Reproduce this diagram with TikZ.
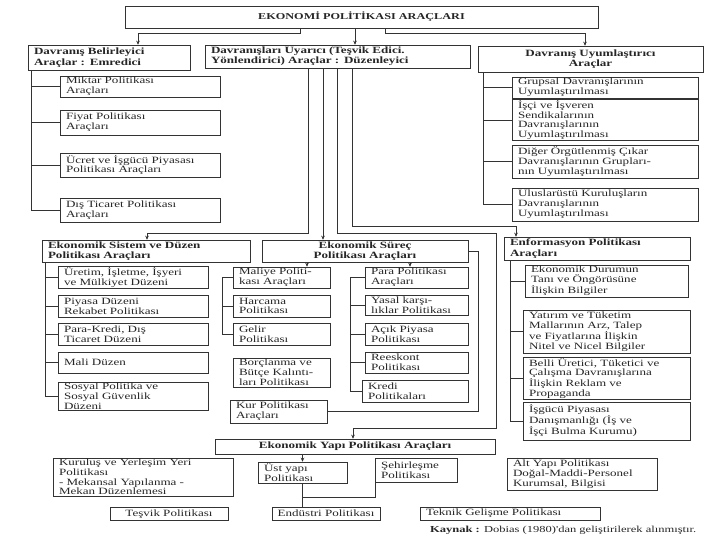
\documentclass[tikz,border=0pt]{standalone}
\usepackage{fontspec}
\newfontfamily\scanfont{Liberation Serif}[FakeStretch=1.36]
\usetikzlibrary{arrows.meta}
\colorlet{inkc}{black!80}
\newcommand{\itemfont}{\scanfont\fontsize{9.6}{9.8}\selectfont}
\newcommand{\headfont}{\scanfont\bfseries\fontsize{9.6}{10.4}\selectfont}

\begin{document}
\begin{tikzpicture}[x=1pt, y=-1pt,
  tool/.style={rectangle, draw=inkc, line width=0.5pt, fill=white,
               text=black!85, align=left, inner xsep=6pt, inner ysep=1pt,
               font=\itemfont},
  head/.style={tool, font=\headfont},
  link/.style={draw=inkc, line width=0.5pt},
  arr/.style={link, -{Stealth[length=4pt, width=3.5pt]}},
  note/.style={inner sep=0pt, text=black!85,
               font=\scanfont\fontsize{9.2}{9.4}\selectfont}
]
\fill[white] (0,0) rectangle (720,540);
\useasboundingbox (0,0) rectangle (720,540);

% main title
\node[head, align=center, text width=461pt, minimum height=22pt,
      font=\scanfont\bfseries\fontsize{9}{10}\selectfont] (top) at (361.5,17)
      {EKONOMİ POLİTİKASI ARAÇLARI};

% first level
\node[head, text width=150pt, minimum height=25pt] (A) at (109,57.5)
      {Davranış Belirleyici\\Araçlar : Emredici};
\node[head, text width=253pt, minimum height=23pt] (B) at (337.5,56.5)
      {Davranışları Uyarıcı (Teşvik Edici.\\Yönlendirici) Araçlar : Düzenleyici};
\node[head, align=center, text width=213pt, minimum height=26pt] (C) at (590.5,59)
      {Davranış Uyumlaştırıcı\\Araçlar};

\coordinate (tl) at (138,33);
\coordinate (tr) at (585,33);
\draw[arr] ([xshift=-61.5]top.south) |- (tl) -- (tl |- A.north);
\draw[arr] ([xshift=-6.5]top.south) -- ([xshift=17.5]B.north);
\draw[arr] ([xshift=23.5]top.south) |- (tr) -- (tr |- C.north);

% emredici
\node[tool, text width=148pt, minimum height=19pt] (A1) at (140,86.5)
      {Miktar Politikası\\Araçları};
\node[tool, text width=148pt, minimum height=25pt] (A2) at (140,122.5)
      {Fiyat Politikası\\Araçları};
\node[tool, text width=148pt, minimum height=24pt] (A3) at (140,165)
      {Ücret ve İşgücü Piyasası\\Politikası Araçları};
\node[tool, text width=148pt, minimum height=24pt] (A4) at (140,210)
      {Dış Ticaret Politikası\\Araçları};
\coordinate (aL) at ([xshift=3]A.south west);
\draw[link] (aL) |- (A4.west);
\foreach \n in {A1,A2,A3}
  \draw[link] (\n.west) -- (\n.west -| aL);

% uyumlastirici
\node[tool, text width=174pt, minimum height=19pt] (C1) at (605,87.5)
      {Grupsal Davranışlarının\\Uyumlaştırılması};
\node[tool, text width=174pt, minimum height=36pt] (C2) at (605,120)
      {İşçi ve İşveren\\Sendikalarının\\Davranışlarının\\Uyumlaştırılması};
\node[tool, text width=174pt, minimum height=33pt] (C3) at (605,161.5)
      {Diğer Örgütlenmiş Çıkar\\Davranışlarının Grupları-\\nın Uyumlaştırılması};
\node[tool, text width=174pt, minimum height=33pt] (C4) at (605,204.5)
      {Uluslarüstü Kuruluşların\\Davranışlarının\\Uyumlaştırılması};
\coordinate (cL) at ([xshift=5]C.south west);
\draw[link] (cL) |- (C4.west);
\foreach \n in {C1,C2,C3}
  \draw[link] (\n.west) -- (\n.west -| cL);

% duzenleyici groups
\node[head, text width=196pt, minimum height=22pt] (D) at (146,251)
      {Ekonomik Sistem ve Düzen\\Politikası Araçları};
\node[head, align=center, text width=194pt, minimum height=22pt] (E) at (365,251)
      {Ekonomik Süreç\\Politikası Araçları};
\node[head, text width=174pt, minimum height=23pt] (F) at (597,248.5)
      {Enformasyon Politikası\\Araçları};
\node[head, align=center, text width=268pt, minimum height=15pt] (G) at (355,446.5)
      {Ekonomik Yapı Politikası Araçları};

\coordinate (dj) at (147,233);
\coordinate (gj1) at (496,233);
\coordinate (gj2) at (353,428);
\coordinate (fj) at (516,226);
\draw[arr] ([xshift=-29.5]B.south) |- (dj) -- (dj |- D.north);
\draw[arr] ([xshift=-14.5]B.south) -- ([xshift=-42]E.north);
\draw[arr] (B.south) |- (gj1) |- (gj2) -- (gj2 |- G.north);
\draw[arr] ([xshift=14.5]B.south) |- (fj) -- (fj |- F.north);

% sistem ve duzen
\node[tool, text width=138pt, minimum height=21pt] (D1) at (133,277.5)
      {Üretim, İşletme, İşyeri\\ve Mülkiyet Düzeni};
\node[tool, text width=138pt, minimum height=22pt] (D2) at (133,306)
      {Piyasa Düzeni\\Rekabet Politikası};
\node[tool, text width=138pt, minimum height=22pt] (D3) at (133,334)
      {Para-Kredi, Dış\\Ticaret Düzeni};
\node[tool, text width=138pt, minimum height=21pt] (D4) at (133,362.5)
      {Mali Düzen};
\node[tool, text width=138pt, minimum height=28pt] (D5) at (133,396)
      {Sosyal Politika ve\\Sosyal Güvenlik\\Düzeni};
\coordinate (dL) at ([xshift=3]D.south west);
\draw[link] (dL) |- (D5.west);
\foreach \n in {D1,D2,D3,D4}
  \draw[link] (\n.west) -- (\n.west -| dL);

% surec
\node[tool, text width=85pt, minimum height=21pt] (E1) at (281.5,277.5)
      {Maliye Politi-\\kası Araçları};
\node[tool, text width=85pt, minimum height=22pt] (E2) at (281.5,306)
      {Harcama\\Politikası};
\node[tool, text width=85pt, minimum height=22pt] (E3) at (281.5,334)
      {Gelir\\Politikası};
\node[tool, text width=85pt, minimum height=29pt] (E4) at (281.5,372.5)
      {Borçlanma ve\\Bütçe Kalıntı-\\ları Politikası};
\node[tool, text width=85pt, minimum height=23pt] (E5) at (278.5,411.5)
      {Kur Politikası\\Araçları};
\node[tool, text width=91pt, minimum height=21pt] (E6) at (416.5,277.5)
      {Para Politikası\\Araçları};
\node[tool, text width=91pt, minimum height=20pt] (E7) at (416.5,305)
      {Yasal karşı-\\lıklar Politikası};
\node[tool, text width=91pt, minimum height=22pt] (E8) at (416.5,334)
      {Açık Piyasa\\Politikası};
\node[tool, text width=91pt, minimum height=21pt] (E9) at (416.5,362.5)
      {Reeskont\\Politikası};
\node[tool, text width=94pt, minimum height=22pt] (E10) at (415,391)
      {Kredi\\Politikaları};
\draw[arr] ([xshift=-58]E.south) -- ([xshift=-58]E.south |- E1.north);
\draw[arr] ([xshift=45]E.south) -- ([xshift=45]E.south |- E6.north);
\draw[link] (E1.west) -- ++(-11,0) coordinate (mL) |- (E3.west);
\draw[link] (E2.west) -- (E2.west -| mL);
\draw[link] (E6.west) -- ++(-15,0) coordinate (pL) |- (E10.west);
\foreach \n in {E7,E8,E9}
  \draw[link] (\n.west) -- (\n.west -| pL);
\draw[link] (E.east) -- ++(10,0) |- (E5.east);

% enformasyon
\node[tool, text width=151pt, minimum height=32pt] (F1) at (606.5,281)
      {Ekonomik Durumun\\Tanı ve Öngörüsüne\\İlişkin Bilgiler};
\node[tool, text width=155pt, minimum height=43pt] (F2) at (606.5,331.5)
      {Yatırım ve Tüketim\\Mallarının Arz, Talep\\ve Fiyatlarına İlişkin\\Nitel ve Nicel Bilgiler};
\node[tool, text width=155pt, minimum height=37pt] (F3) at (606.5,378.5)
      {Belli Üretici, Tüketici ve\\Çalışma Davranışlarına\\İlişkin Reklam ve\\Propaganda};
\node[tool, text width=155pt, minimum height=38pt] (F4) at (606.5,421)
      {İşgücü Piyasası\\Danışmanlığı (İş ve\\İşçi Bulma Kurumu)};
\coordinate (fL) at ([xshift=6]F.south west);
\draw[link] (fL) |- (F4.west);
\foreach \n in {F1,F2,F3}
  \draw[link] (\n.west) -- (\n.west -| fL);

% yapi
\node[tool, text width=168pt, minimum height=37pt] (G1) at (143,477)
      {Kuruluş ve Yerleşim Yeri\\Politikası\\- Mekansal Yapılanma -\\Mekan Düzenlemesi};
\node[tool, text width=77pt, minimum height=21pt] (G2) at (302.5,472.5)
      {Üst yapı\\Politikası};
\node[tool, text width=70pt, minimum height=24pt] (G3) at (416,470.5)
      {Şehirleşme\\Politikası};
\node[tool, text width=138pt, minimum height=32pt] (G4) at (582,474)
      {Alt Yapı Politikası\\Doğal-Maddi-Personel\\Kurumsal, Bilgisi};
\draw[arr] (G.south -| G2.north) -- (G2.north);

\node[tool, align=center, text width=106pt, minimum height=13pt] (H1) at (169,514)
      {Teşvik Politikası};
\node[tool, align=center, inner xsep=3pt, text width=102pt, minimum height=13pt]
      (H2) at (326,513.5) {Endüstri Politikası};
\node[tool, text width=168pt, minimum height=13pt] (H3) at (510,513.5)
      {Teknik Gelişme Politikası};
\coordinate (hj) at (302.5,497);
\draw[link] (G2.south) -- (hj) -- (hj |- H2.north);
\draw[link] (G3.south west) |- (hj);

\node[note, anchor=west] (src) at (430,530)
      {\textbf{Kaynak :} Dobias (1980)'dan geliştirilerek alınmıştır.};
\end{tikzpicture}
\end{document}
